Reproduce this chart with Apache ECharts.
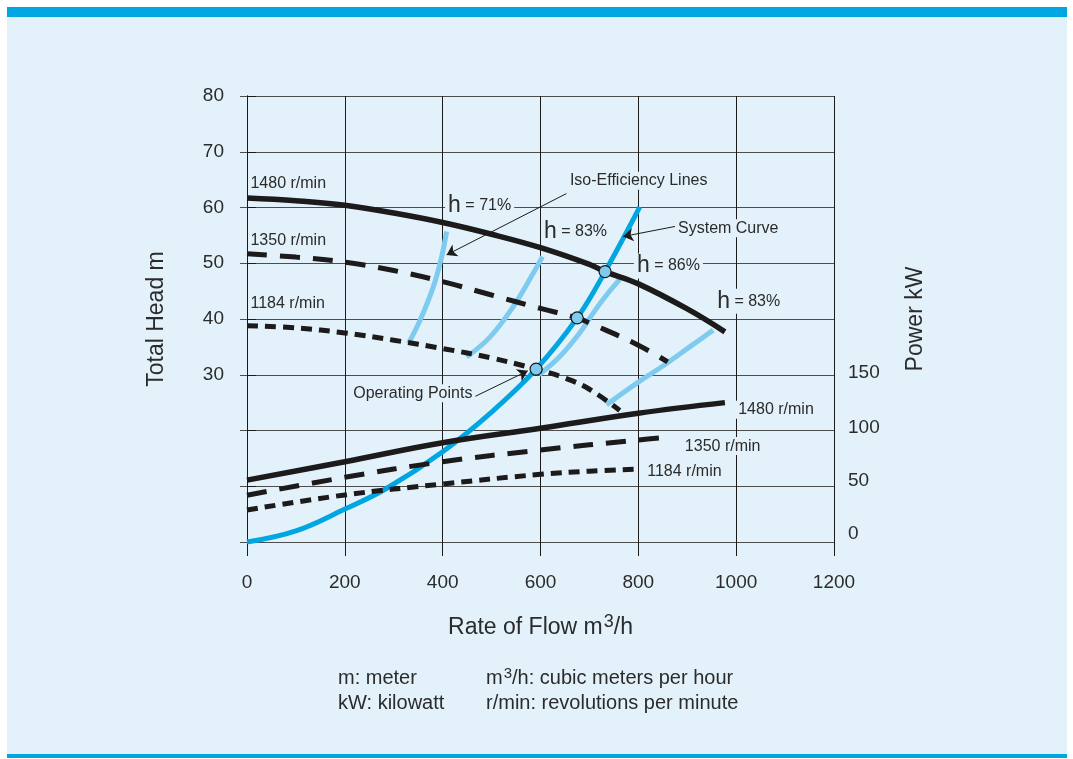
<!DOCTYPE html>
<html>
<head>
<meta charset="utf-8">
<script src="https://cdn.jsdelivr.net/npm/echarts/dist/echarts.min.js"></script>
<style>
  html, body { margin: 0; padding: 0; background: #ffffff; }
  #chart { width: 1073px; height: 759px; }
</style>
</head>
<body>
<div id="chart"></div>
<script>
// Flow axis (m3/h) and head axis (m) ticks
const flowTicks = [0, 200, 400, 600, 800, 1000, 1200];
const headLabelsShown = [30, 40, 50, 60, 70, 80];
const powerLabelsShown = [0, 50, 100, 150];

// Pump head curves at three speeds: [flow m3/h, head m]
const head1480 = [[0, 61.7], [100, 61.2], [200, 60.4], [300, 59.0], [400, 57.3], [500, 55.2], [600, 52.8], [700, 49.8], [732, 48.5], [800, 46.3], [900, 41.8], [977, 37.7]];
const head1350 = [[0, 51.7], [100, 51.1], [200, 50.2], [300, 48.7], [400, 46.7], [500, 44.3], [600, 41.9], [675, 40.2], [700, 39.3], [800, 35.3], [860, 32.3]];
const head1184 = [[0, 38.8], [100, 38.4], [200, 37.5], [300, 36.2], [400, 34.7], [500, 33.0], [591, 31.0], [650, 29.4], [700, 27.4], [762, 23.6]];

// System curve: [flow, head]
const systemCurve = [[0, 0], [100, 2.0], [200, 5.9], [285, 9.6], [400, 16.2], [500, 23.3], [591, 31.0], [675, 40.2], [732, 48.5], [803, 60.1]];

// Shaft power at three speeds: [flow, kW]
const power1480 = [[0, 55.5], [200, 72], [400, 89], [600, 102], [800, 115.5], [977, 125]];
const power1350 = [[0, 42], [200, 58], [400, 72], [600, 82.5], [800, 91.5], [860, 94]];
const power1184 = [[0, 28.7], [200, 42.2], [400, 52], [600, 60.7], [700, 63.5], [793, 65.2]];

// Iso-efficiency lines: [flow, head]
const eff71 = [[330, 35.6], [354, 39.8], [381, 45.8], [398, 51.2], [408, 55.7]];
const eff83a = [[449, 33.2], [497, 36.8], [544, 42.2], [585, 48.2], [604, 51.2]];
const eff86 = [[597, 30.0], [640, 33.3], [681, 37.6], [708, 41.1], [735, 44.3], [762, 47.1]];
const eff83b = [[735, 24.6], [797, 28.5], [844, 31.2], [905, 35.0], [953, 38.0]];

// Operating points where the system curve meets each head curve
const operatingPoints = [[591, 31.0], [675, 40.2], [732, 48.5]];

// Text annotations, anchored in [flow, head] space (left edge, vertical middle)
const annotations = [
  { text: '1480 r/min', at: [3, 64.2], pad: [1, 2] },
  { text: '1350 r/min', at: [3, 54.0], pad: [1, 2] },
  { text: '1184 r/min', at: [3, 42.7], pad: [1, 2] },
  { text: '{h|h}{t| = 71%}', at: [405, 60.4] },
  { text: '{h|h}{t| = 83%}', at: [601, 55.6] },
  { text: '{h|h}{t| = 86%}', at: [791, 49.5] },
  { text: '{h|h}{t| = 83%}', at: [955, 43.2] },
  { text: 'Iso-Efficiency Lines', at: [654, 64.8] },
  { text: 'System Curve', at: [875, 56.3] },
  { text: 'Operating Points', at: [211, 26.7] },
  { text: '1480 r/min', at: [998, 23.7] },
  { text: '1350 r/min', at: [889, 17.2] },
  { text: '1184 r/min', at: [812, 12.7] }
];

// Leader arrows: [from, to] in [flow, head] space
const arrows = [
  [[653, 62.5], [408, 51.5]],
  [[875, 56.6], [769, 54.8]],
  [[466, 26.1], [574, 30.7]]
];

const FONT = 'Liberation Sans, Arial, Helvetica, sans-serif';
const INK = '#2b2b2b';
const PANEL = '#e3f2fa';
const BLUE = '#00a6e1';
const LIGHT = '#7fcbf0';
const BLACK = '#1c1a1b';

function curve(name, data, color, width, dash, yAxisIndex, z) {
  return {
    name: name,
    type: 'line',
    data: data,
    yAxisIndex: yAxisIndex || 0,
    showSymbol: false,
    smooth: 0.4,
    silent: true,
    z: z,
    lineStyle: { color: color, width: width, type: dash || 'solid', cap: 'butt' }
  };
}

const chart = echarts.init(document.getElementById('chart'), null, { renderer: 'canvas' });

const option = {
  animation: false,
  backgroundColor: '#ffffff',
  textStyle: { fontFamily: FONT, color: INK },
  grid: { left: 247, right: 239, top: 96, bottom: 217 },
  xAxis: [
    {
      type: 'value', min: 0, max: 1200, interval: 200,
      name: '{a|Rate of Flow m}{s|3}{a|/h}',
      nameLocation: 'middle', nameGap: 72,
      nameTextStyle: {
        rich: {
          a: { fontFamily: FONT, fontSize: 23, color: INK, lineHeight: 28 },
          s: { fontFamily: FONT, fontSize: 18, color: INK, padding: [0, 0, 12, 1], lineHeight: 28 }
        }
      },
      axisLine: { show: false },
      axisTick: { show: true, inside: false, length: 14, lineStyle: { color: BLACK, width: 1 } },
      axisLabel: {
        margin: 31, fontSize: 19, fontFamily: FONT, color: INK,
        formatter: v => (flowTicks.indexOf(v) >= 0 ? String(v) : '')
      },
      splitLine: { show: true, lineStyle: { color: BLACK, width: 1 } }
    },
    {
      type: 'value', min: 0, max: 1200, interval: 200, position: 'top',
      axisLine: { show: false },
      axisTick: { show: true, inside: false, length: 8, lineStyle: { color: BLACK, width: 1 } },
      axisLabel: { show: false },
      splitLine: { show: false }
    }
  ],
  yAxis: [
    {
      type: 'value', min: 0, max: 80, interval: 10,
      name: 'Total Head m', nameLocation: 'middle', nameGap: 79, nameRotate: 90,
      nameTextStyle: { fontFamily: FONT, fontSize: 23, color: INK },
      axisLine: { show: true, lineStyle: { color: BLACK, width: 1 } },
      axisTick: { show: true, inside: false, length: 7, lineStyle: { color: '#4d4d4d', width: 1 } },
      axisLabel: {
        margin: 23, fontSize: 19, fontFamily: FONT, color: INK,
        formatter: v => (headLabelsShown.indexOf(v) >= 0 ? String(v) : '')
      },
      splitLine: { show: true, lineStyle: { color: '#4d4d4d', width: 1 } }
    },
    {
      type: 'value', min: 0, max: 400, interval: 50, position: 'right',
      name: 'Power kW', nameLocation: 'middle', nameGap: 70, nameRotate: 90,
      nameTextStyle: { fontFamily: FONT, fontSize: 23, color: INK },
      axisLine: { show: true, lineStyle: { color: BLACK, width: 1 } },
      axisTick: { show: true, inside: false, length: 9, lineStyle: { color: BLACK, width: 1 } },
      axisLabel: {
        margin: 14, fontSize: 19, fontFamily: FONT, color: INK, align: 'left',
        formatter: v => {
          if (powerLabelsShown.indexOf(v) < 0) return '';
          return '{p' + v + '|' + v + '}';
        },
        rich: {
          p0: { fontSize: 19, fontFamily: FONT, color: INK, padding: [0, 0, 16, 0] },
          p50: { fontSize: 19, fontFamily: FONT, color: INK, padding: [0, 0, 10, 0] },
          p100: { fontSize: 19, fontFamily: FONT, color: INK, padding: [0, 0, 6, 0] },
          p150: { fontSize: 19, fontFamily: FONT, color: INK, padding: [0, 0, 4, 0] }
        }
      },
      splitLine: { show: false }
    }
  ],
  graphic: [
    { type: 'rect', z: -100, silent: true, shape: { x: 7, y: 17, width: 1060, height: 737 }, style: { fill: PANEL } },
    { type: 'rect', z: -100, silent: true, shape: { x: 7, y: 7, width: 1060, height: 10 }, style: { fill: BLUE } },
    { type: 'rect', z: -100, silent: true, shape: { x: 7, y: 754, width: 1060, height: 4 }, style: { fill: BLUE } },
    { type: 'text', x: 338, y: 678, silent: true, style: { text: 'm: meter', fontSize: 20, fontFamily: FONT, fill: INK, verticalAlign: 'middle', textVerticalAlign: 'middle' } },
    { type: 'text', x: 338, y: 703, silent: true, style: { text: 'kW: kilowatt', fontSize: 20, fontFamily: FONT, fill: INK, verticalAlign: 'middle', textVerticalAlign: 'middle' } },
    {
      type: 'text', x: 486, y: 678, silent: true,
      style: {
        text: '{a|m}{s|3}{a|/h: cubic meters per hour}', verticalAlign: 'middle', textVerticalAlign: 'middle',
        rich: {
          a: { fontSize: 20, fontFamily: FONT, fill: INK, color: INK, lineHeight: 24 },
          s: { fontSize: 15, fontFamily: FONT, fill: INK, color: INK, padding: [0, 0, 9, 1], lineHeight: 24 }
        }
      }
    },
    { type: 'text', x: 486, y: 703, silent: true, style: { text: 'r/min: revolutions per minute', fontSize: 20, fontFamily: FONT, fill: INK, verticalAlign: 'middle', textVerticalAlign: 'middle' } }
  ],
  series: [
    curve('η 71%', eff71, LIGHT, 5, 'solid', 0, 2),
    curve('η 83% (a)', eff83a, LIGHT, 5, 'solid', 0, 2),
    curve('η 86%', eff86, LIGHT, 5, 'solid', 0, 2),
    curve('η 83% (b)', eff83b, LIGHT, 5, 'solid', 0, 2),
    curve('System Curve', systemCurve, BLUE, 5, 'solid', 0, 3),
    curve('Head 1480', head1480, BLACK, 5.5, 'solid', 0, 4),
    curve('Head 1350', head1350, BLACK, 5, [20, 13], 0, 4),
    curve('Head 1184', head1184, BLACK, 5, [11, 7], 0, 4),
    curve('Power 1480', power1480, BLACK, 5.5, 'solid', 1, 4),
    curve('Power 1350', power1350, BLACK, 5, [20, 13], 1, 4),
    curve('Power 1184', power1184, BLACK, 5, [11, 7], 1, 4),
    {
      name: 'Operating Points',
      type: 'scatter',
      data: operatingPoints,
      symbol: 'circle',
      symbolSize: 12,
      z: 6,
      silent: true,
      itemStyle: { color: LIGHT, borderColor: BLACK, borderWidth: 1.2, opacity: 1 },
      markLine: {
        silent: true,
        symbol: ['none', 'arrow'],
        symbolSize: 10,
        label: { show: false },
        lineStyle: { color: BLACK, width: 1, type: 'solid' },
        emphasis: { disabled: true },
        data: arrows.map(a => [{ coord: a[0] }, { coord: a[1] }])
      },
      markPoint: {
        silent: true,
        symbol: 'circle',
        symbolSize: 0,
        itemStyle: { color: 'rgba(0,0,0,0)' },
        label: {
          show: true,
          position: 'right',
          distance: 0,
          fontFamily: FONT,
          fontSize: 16,
          color: INK,
          backgroundColor: PANEL,
          padding: [1, 3],
          rich: {
            h: { fontFamily: FONT, fontSize: 23, color: INK },
            t: { fontFamily: FONT, fontSize: 16, color: INK }
          }
        },
        data: annotations.map(a => ({
          coord: a.at,
          value: 0,
          label: a.pad ? { formatter: a.text, padding: a.pad } : { formatter: a.text }
        }))
      }
    }
  ]
};

chart.setOption(option);
</script>
</body>
</html>
